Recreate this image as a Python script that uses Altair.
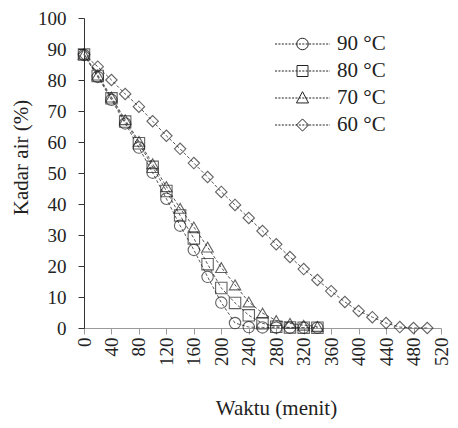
import altair as alt
import pandas as pd

# ---- data ----
series_names = ["90 °C", "80 °C", "70 °C", "60 °C"]

time_hot = list(range(0, 341, 20))          # 0..340 min
kadar_90 = [88.1, 81.0, 73.6, 66.0, 58.2, 50.1, 41.7, 33.0, 25.2, 16.5,
            8.2, 1.6, 0.3, 0.2, 0.1, 0.1, 0.1, 0.1]
kadar_80 = [88.2, 81.3, 74.1, 66.6, 59.6, 52.0, 44.2, 36.3, 28.9, 20.6,
            12.9, 8.1, 4.1, 1.5, 0.4, 0.2, 0.1, 0.1]
kadar_70 = [88.3, 81.6, 74.5, 67.2, 60.2, 53.0, 45.6, 38.6, 32.6, 26.1,
            19.5, 13.9, 8.4, 4.8, 2.4, 1.5, 0.9, 0.5]

time_60 = list(range(0, 501, 20))           # 0..500 min
kadar_60 = [88.2, 84.3, 80.0, 75.5, 71.4, 66.7, 62.0, 57.8, 53.2, 48.7,
            43.9, 39.7, 35.5, 31.3, 27.0, 22.9, 19.0, 15.5, 11.9, 8.4,
            5.5, 3.5, 1.6, 0.3, 0.0, 0.0]

x_ticks = list(range(0, 521, 40))
y_ticks = list(range(0, 101, 10))

# ---- build long table ----
rows = []
for name, ts, vs in [(series_names[0], time_hot, kadar_90),
                     (series_names[1], time_hot, kadar_80),
                     (series_names[2], time_hot, kadar_70),
                     (series_names[3], time_60, kadar_60)]:
    for t, v in zip(ts, vs):
        rows.append({"Waktu": t, "Kadar": v, "Suhu": name})
df = pd.DataFrame(rows)

FONT = "'Liberation Serif', 'Times New Roman', 'DejaVu Serif', serif"
INK = "#222222"

# ---- legend symbols: dashed line with marker in the middle ----
# symbol unit = sqrt(symbolSize)/2 px; the path reaches beyond the unit box
def dashed(marker):
    segs = []
    x = -5.0
    dash, gap = 0.37, 0.25
    while x < 5.0:
        x2 = min(x + dash, 5.0)
        segs.append(f"M{x:.3f},0L{x2:.3f},0")
        x += dash + gap
    return "".join(segs) + marker

m_circle = "M1.05,0A1.05,1.05,0,1,1,-1.05,0A1.05,1.05,0,1,1,1.05,0Z"
m_square = "M-1,-1L1,-1L1,1L-1,1Z"
m_tri = "M0,-1.15L1.1,0.9L-1.1,0.9Z"
m_diam = "M0,-1.1L1.1,0L0,1.1L-1.1,0Z"
legend_shapes = [dashed(m) for m in (m_circle, m_square, m_tri, m_diam)]

x_enc = alt.X("Waktu:Q",
              scale=alt.Scale(domain=[0, 520], nice=False),
              axis=alt.Axis(values=x_ticks, labelAngle=270, title="Waktu (menit)",
                            grid=False, domainColor="#9a9a9a", tickColor="#9a9a9a",
                            tickSize=6, labelPadding=3, labelFont=FONT, labelFontSize=19,
                            labelColor=INK, titleFont=FONT, titleFontSize=21,
                            titleFontWeight="normal", titleColor=INK,
                            titleX=192, titleY=80, titleBaseline="middle",
                            titleAlign="center"))
y_enc = alt.Y("Kadar:Q",
              scale=alt.Scale(domain=[0, 100], nice=False),
              axis=alt.Axis(values=y_ticks, title="Kadar air (%)", grid=False,
                            domainColor="#333333", tickColor="#333333", tickSize=6,
                            labelPadding=12, labelFont=FONT, labelFontSize=19,
                            labelColor=INK, titleFont=FONT, titleFontSize=21,
                            titleFontWeight="normal", titleColor=INK,
                            titleAngle=270, titleX=-63, titleY=139,
                            titleAlign="center", titleBaseline="middle"))

lines = alt.Chart(df).mark_line(strokeDash=[3, 2], strokeWidth=1, color="#555555").encode(
    x=x_enc, y=y_enc, detail="Suhu:N")

points = alt.Chart(df).mark_point(filled=False, size=130, strokeWidth=1.1,
                                  color="#222222").encode(
    x=x_enc, y=y_enc,
    shape=alt.Shape("Suhu:N",
                    scale=alt.Scale(domain=series_names,
                                    range=["circle", "square", "triangle-up", "diamond"]),
                    legend=None))

legend_layer = alt.Chart(df).mark_point(filled=False, opacity=0, color="#222222").encode(
    x=x_enc, y=y_enc,
    shape=alt.Shape("Suhu:N",
                    scale=alt.Scale(domain=series_names, range=legend_shapes),
                    legend=alt.Legend(title=None, orient="none", legendX=208, legendY=15.5,
                                      symbolSize=121, symbolStrokeWidth=1,
                                      symbolStrokeColor="#222222",
                                      symbolFillColor="transparent",
                                      symbolOpacity=1, labelFont=FONT,
                                      labelFontSize=21, labelColor=INK,
                                      labelOffset=24, rowPadding=5, padding=0)))

chart = alt.layer(lines, points, legend_layer).resolve_scale(
    shape="independent"
).properties(
    width=357, height=310,
    autosize=alt.AutoSizeParams(type="none"),
    padding={"left": 76, "top": 10, "right": 9, "bottom": 92},
    background="white",
).configure_view(stroke=None)

chart.save("out.html", embed_options={"renderer": "svg", "actions": False})
